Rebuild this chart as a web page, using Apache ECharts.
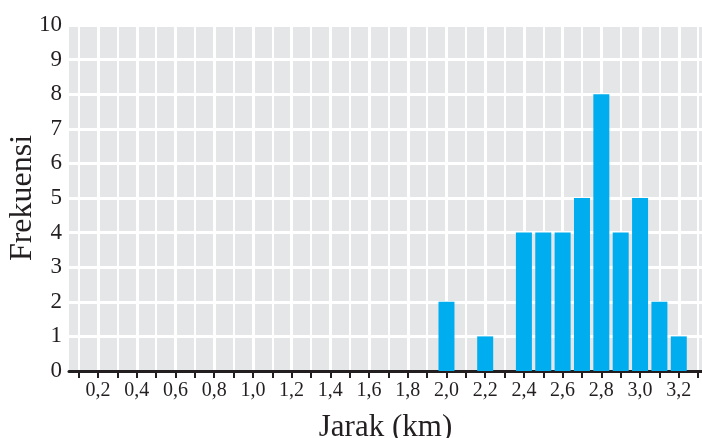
<!DOCTYPE html>
<html>
<head>
<meta charset="utf-8">
<script src="https://cdn.jsdelivr.net/npm/echarts@6/dist/echarts.min.js"></script>
<style>
html,body{margin:0;padding:0;background:#fff;}
#chart{width:702px;height:438px;}
</style>
</head>
<body>
<div id="chart"></div>
<script>
const jarak = [2.0, 2.2, 2.4, 2.5, 2.6, 2.7, 2.8, 2.9, 3.0, 3.1, 3.2];
const frekuensi = [2, 1, 4, 4, 4, 5, 8, 4, 5, 2, 1];
const xTickValues = [0.1,0.2,0.3,0.4,0.5,0.6,0.7,0.8,0.9,1.0,1.1,1.2,1.3,1.4,1.5,1.6,1.7,1.8,1.9,2.0,2.1,2.2,2.3,2.4,2.5,2.6,2.7,2.8,2.9,3.0,3.1,3.2,3.3];
const xLabelValues = [0.2,0.4,0.6,0.8,1.0,1.2,1.4,1.6,1.8,2.0,2.2,2.4,2.6,2.8,3.0,3.2];
const xMajorLines = [0.2,0.4,0.6,0.8,1.0,1.2,1.4,1.6,1.8,2.0,2.2,2.4,2.6,2.8,3.0,3.2];
const yMin = 0, yMax = 10, yStep = 1;

const FONT = 'Liberation Serif';
const TXT = '#231f20';
const chart = echarts.init(document.getElementById('chart'), null, {renderer: 'canvas'});
chart.setOption({
  animation: false,
  grid: {left: 69, right: 0, top: 25, bottom: 67, show: true, backgroundColor: '#e5e6e8', borderWidth: 0,
    containLabel: false, outerBoundsMode: 'none'},
  xAxis: [{
    type: 'value', min: 0.05, max: 3.32,
    name: 'Jarak (km)', nameLocation: 'middle', nameGap: 41,
    nameTextStyle: {fontFamily: FONT, fontSize: 31, color: TXT},
    axisLine: {show: true, onZero: false, lineStyle: {color: '#231f20', width: 3}},
    axisTick: {show: true, customValues: xTickValues, length: 7, lineStyle: {color: '#231f20', width: 2}},
    axisLabel: {customValues: xLabelValues, fontFamily: FONT, fontSize: 20, color: TXT, margin: 10,
      formatter: v => v.toFixed(1).replace('.', ',')},
    splitLine: {show: true, lineStyle: {color: '#ffffff', width: 2}}
  }, {
    type: 'value', min: 0.05, max: 3.32, position: 'bottom',
    axisLine: {show: false}, axisLabel: {show: false},
    axisTick: {show: false, customValues: xMajorLines},
    splitLine: {show: true, lineStyle: {color: '#ffffff', width: 3}}
  }],
  yAxis: {
    type: 'value', min: yMin, max: yMax, interval: yStep,
    name: 'Frekuensi', nameLocation: 'middle', nameGap: 30, nameRotate: 90, nameMoveOverlap: false,
    nameTextStyle: {fontFamily: FONT, fontSize: 32, color: TXT},
    axisLine: {show: false}, axisTick: {show: false},
    axisLabel: {fontFamily: FONT, fontSize: 23, color: TXT, margin: 7},
    splitLine: {show: true, lineStyle: {color: '#ffffff', width: 3}}
  },
  series: [{
    type: 'bar', xAxisIndex: 0, barWidth: 16, z: 3,
    itemStyle: {color: '#00aeef'},
    data: jarak.map((x, i) => [x, frekuensi[i]])
  }]
});
</script>
</body>
</html>
